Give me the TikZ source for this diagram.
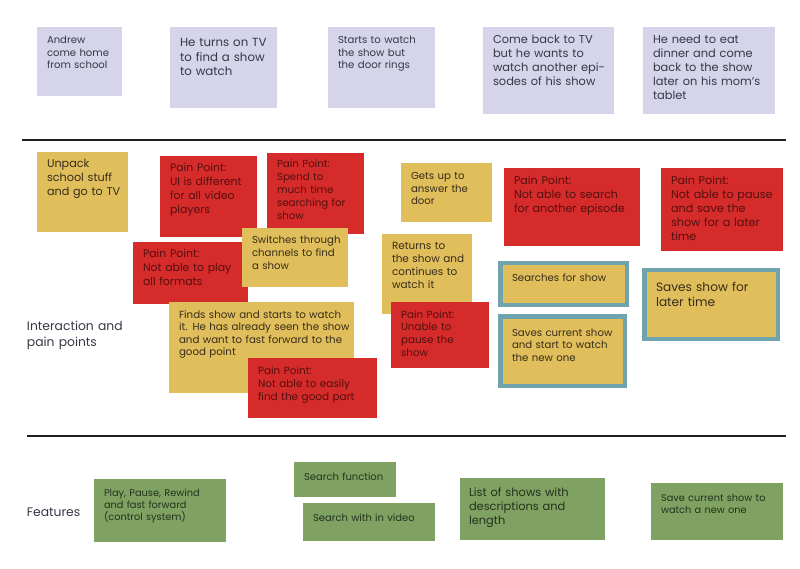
\documentclass[tikz,border=0pt]{standalone}
\usepackage{fontspec}
\setmainfont{Poppins}
\definecolor{lavc}{RGB}{214,212,234}
\definecolor{yelc}{RGB}{224,190,92}
\definecolor{redc}{RGB}{214,43,43}
\definecolor{tealc}{RGB}{111,164,174}
\definecolor{grnc}{RGB}{127,162,99}
\definecolor{tgray}{RGB}{55,55,70}
\definecolor{tyel}{RGB}{55,45,25}
\definecolor{tred}{RGB}{85,15,15}
\definecolor{tgrn}{RGB}{35,50,28}
\newcommand\fscale{0.95}
\newcommand\fsz[2]{\fontsize{\fpeval{#1*\fscale}}{#2}\selectfont}
\begin{document}
\begin{tikzpicture}[x=1pt,y=-1pt,
  box/.style={anchor=north west, inner sep=0pt, outer sep=0pt, draw=none},
  lavbox/.style={box, fill=lavc},
  yelbox/.style={box, fill=yelc},
  redbox/.style={box, fill=redc},
  grnbox/.style={box, fill=grnc},
  tealbox/.style={box, fill=yelc, draw=tealc, line width=4.5pt},
  txt/.style={anchor=base west, inner sep=0pt, outer sep=0pt, align=left, text width=200pt},
  ltxt/.style={txt, text=tgray},
  ytxt/.style={txt, text=tyel},
  rtxt/.style={txt, text=tred},
  gtxt/.style={txt, text=tgrn},
  sep/.style={line width=2pt, draw=black!88}
]
\fill[white] (0,0) rectangle (800,569);
\useasboundingbox (0,0) rectangle (800,569);

% top row
\node[lavbox, minimum width=85pt, minimum height=69pt] (t1) at (37,27) {};
\node[ltxt, font=\fsz{10.6}{12.3}] (t1t) at (47,44) {Andrew\\come home\\from school};
\node[lavbox, minimum width=107pt, minimum height=81pt] (t2) at (170,27) {};
\node[ltxt, font=\fsz{12.4}{14.5}] (t2t) at (180,47) {He turns on TV\\to find a show\\to watch};
\node[lavbox, minimum width=107pt, minimum height=81pt] (t3) at (328,27) {};
\node[ltxt, font=\fsz{10.7}{12.5}] (t3t) at (338,44) {Starts to watch\\the show but\\the door rings};
\node[lavbox, minimum width=131pt, minimum height=87pt] (t4) at (483,27) {};
\node[ltxt, font=\fsz{12}{14}] (t4t) at (493,44) {Come back to TV\\but he wants to\\watch another epi-\\sodes of his show};
\node[lavbox, minimum width=132pt, minimum height=87pt] (t5) at (643,27) {};
\node[ltxt, font=\fsz{12}{14}] (t5t) at (653,44) {He need to eat\\dinner and come\\back to the show\\later on his mom’s\\tablet};

% separators
\coordinate (l1a) at (22,140);
\coordinate (l1b) at (786,140);
\coordinate (l2a) at (27,436);
\coordinate (l2b) at (786,436);
\draw[sep] (l1a) -- (l1b);
\draw[sep] (l2a) -- (l2b);

% labels
\node[txt, text=tgray, font=\fsz{13}{16}] (lab1) at (27,330) {Interaction and\\pain points};
\node[txt, text=tgray, font=\fsz{13}{16}] (lab2) at (27,516) {Features};

% middle section
\node[yelbox, minimum width=91pt, minimum height=80pt] (m1) at (37,152) {};
\node[ytxt, font=\fsz{11.8}{14}] (m1t) at (47,168) {Unpack\\school stuff\\and go to TV};
\node[redbox, minimum width=97pt, minimum height=81pt] (m2) at (160,156) {};
\node[rtxt, font=\fsz{11.5}{14}] (m2t) at (170,172) {Pain Point:\\UI is different\\for all video\\players};
\node[redbox, minimum width=97pt, minimum height=81pt] (m3) at (267,153) {};
\node[rtxt, font=\fsz{10.8}{13}] (m3t) at (277,168) {Pain Point:\\Spend to\\much time\\searching for\\show};
\node[redbox, minimum width=115pt, minimum height=62pt] (m4) at (133,242) {};
\node[rtxt, font=\fsz{11.5}{14}] (m4t) at (143,258) {Pain Point:\\Not able to play\\all formats};
\node[yelbox, minimum width=106pt, minimum height=59pt] (m5) at (242,228) {};
\node[ytxt, font=\fsz{10.7}{12.5}] (m5t) at (252,244) {Switches through\\channels to find\\a show};
\node[yelbox, minimum width=185pt, minimum height=91pt] (m6) at (169,302) {};
\node[ytxt, font=\fsz{10.8}{12.6}] (m6t) at (179,318) {Finds show and starts to watch\\it. He has already seen the show\\and want to fast forward to the\\good point};
\node[redbox, minimum width=129pt, minimum height=60pt] (m7) at (248,358) {};
\node[rtxt, font=\fsz{11}{13}] (m7t) at (258,374) {Pain Point:\\Not able to easily\\find the good part};

\node[yelbox, minimum width=91pt, minimum height=59pt] (m8) at (401,163) {};
\node[ytxt, font=\fsz{10.7}{12.5}] (m8t) at (411,180) {Gets up to\\answer the\\door};
\node[yelbox, minimum width=90pt, minimum height=80pt] (m9) at (382,234) {};
\node[ytxt, font=\fsz{11}{13}] (m9t) at (392,250) {Returns to\\the show and\\continues to\\watch it};
\node[redbox, minimum width=98pt, minimum height=66pt] (m10) at (391,302) {};
\node[rtxt, font=\fsz{10.9}{12.7}] (m10t) at (401,318) {Pain Point:\\Unable to\\pause the\\show};

\node[redbox, minimum width=136pt, minimum height=78pt] (m11) at (504,168) {};
\node[rtxt, font=\fsz{11.7}{13.7}] (m11t) at (514,185) {Pain Point:\\Not able to search\\for another episode};
\node[redbox, minimum width=122pt, minimum height=83pt] (m12) at (661,168) {};
\node[rtxt, font=\fsz{11.8}{13.9}] (m12t) at (671,185) {Pain Point:\\Not able to pause\\and save the\\show for a later\\time};

\node[tealbox, minimum width=126.5pt, minimum height=41.5pt] (m13) at (500.25,263.25) {};
\node[ytxt, font=\fsz{10.7}{12.5}] (m13t) at (512,281) {Searches for show};
\node[tealbox, minimum width=124.5pt, minimum height=69.5pt] (m14) at (500.25,316.25) {};
\node[ytxt, font=\fsz{10.7}{12.5}] (m14t) at (512,336) {Saves current show\\and start to watch\\the new one};
\node[tealbox, minimum width=133.5pt, minimum height=68.5pt] (m15) at (644.25,270.25) {};
\node[ytxt, font=\fsz{12.8}{15}] (m15t) at (656,291) {Saves show for\\later time};

% features
\node[grnbox, minimum width=132pt, minimum height=63pt] (f1) at (94,479) {};
\node[gtxt, font=\fsz{10.3}{12}] (f1t) at (104,496) {Play, Pause, Rewind\\and fast forward\\(control system)};
\node[grnbox, minimum width=102pt, minimum height=35pt] (f2) at (294,462) {};
\node[gtxt, font=\fsz{10.5}{12}] (f2t) at (304,480) {Search function};
\node[grnbox, minimum width=132pt, minimum height=38pt] (f3) at (303,503) {};
\node[gtxt, font=\fsz{10.5}{12}] (f3t) at (313,521) {Search with in video};
\node[grnbox, minimum width=145pt, minimum height=62pt] (f4) at (460,478) {};
\node[gtxt, font=\fsz{12}{14}] (f4t) at (469,496) {List of shows with\\descriptions and\\length};
\node[grnbox, minimum width=132pt, minimum height=57pt] (f5) at (651,483) {};
\node[gtxt, font=\fsz{10.3}{12}] (f5t) at (661,501) {Save current show to\\watch a new one};
\end{tikzpicture}
\end{document}
